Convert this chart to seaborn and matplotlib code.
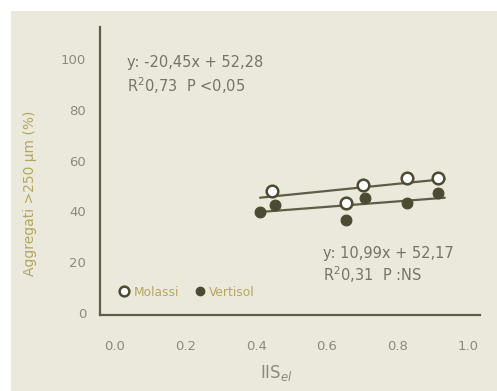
import numpy as np
import pandas as pd
import seaborn as sns
import matplotlib
matplotlib.use("Agg")
import matplotlib.pyplot as plt
from matplotlib.patches import Rectangle
from matplotlib.lines import Line2D

# Aggregate stability vs. IIS index for two soils
molassi_x = [0.444, 0.654, 0.702, 0.827, 0.914]
molassi_y = [48.2, 43.2, 50.4, 53.0, 53.0]
vertisol_x = [0.411, 0.454, 0.654, 0.709, 0.827, 0.914]
vertisol_y = [39.9, 42.5, 36.6, 45.2, 43.4, 47.1]

x_ticks = [0.0, 0.2, 0.4, 0.6, 0.8, 1.0]
x_tick_labels = ["0.0", "0.2", "0.4", "0.6", "0.8", "1.0"]
y_ticks = [0, 20, 40, 60, 80, 100]

eq_molassi = ["y: -20,45x + 52,28", "R$^2$0,73  P <0,05"]
eq_vertisol = ["y: 10,99x + 52,17", "R$^2$0,31  P :NS"]

BG = "#ebe9dc"
AXIS = "#5e5d45"
DARK = "#4b4a32"
TEXT = "#75746a"
TICKTXT = "#8b8a80"
GOLD = "#b3a75f"

sns.set_theme(style="white")
plt.rcParams["font.family"] = ["DejaVu Sans"]

fig = plt.figure(figsize=(4.97, 3.91), dpi=100, facecolor="white")
fig.patches.append(Rectangle((11 / 497, 0), 1 - 11 / 497, 1 - 11 / 391,
                             transform=fig.transFigure, facecolor=BG,
                             edgecolor="none", zorder=-10))
ax = fig.add_axes([100 / 497, 1 - 315 / 391, 380 / 497, 288 / 391])
ax.set_facecolor(BG)
ax.patch.set_alpha(0)

df_m = pd.DataFrame({"x": molassi_x, "y": molassi_y})
df_v = pd.DataFrame({"x": vertisol_x, "y": vertisol_y})

# regression lines over the common x range of the data
x_lo = min(molassi_x + vertisol_x)
x_hi = max(molassi_x + vertisol_x) + 0.02
for d in (df_m, df_v):
    k, b = np.polyfit(d["x"], d["y"], 1)
    xs = np.array([x_lo, x_hi])
    sns.lineplot(x=xs, y=k * xs + b, ax=ax, color=AXIS, lw=1.6, zorder=2)

sns.scatterplot(data=df_v, x="x", y="y", ax=ax, s=60, color=DARK,
                edgecolor=DARK, linewidth=0.8, zorder=3)
sns.scatterplot(data=df_m, x="x", y="y", ax=ax, s=70, facecolor="white",
                edgecolor=DARK, linewidth=1.8, zorder=4)

ax.set_xlim(-0.0425, 1.034)
ax.set_ylim(-0.8, 112.6)
ax.set_xticks(x_ticks)
ax.set_xticklabels(x_tick_labels)
ax.set_yticks(y_ticks)

for side in ("top", "right"):
    ax.spines[side].set_visible(False)
for side in ("left", "bottom"):
    ax.spines[side].set_color(AXIS)
    ax.spines[side].set_linewidth(1.6)

ax.tick_params(axis="both", which="major", direction="inout", length=4,
               width=1.0, color=AXIS, labelsize=9.5, labelcolor=TICKTXT)
ax.tick_params(axis="x", pad=16)
ax.tick_params(axis="y", pad=8)

ax.set_xlabel("IIS$_{el}$", fontsize=12, color=TICKTXT)
ax.xaxis.set_label_coords((276 - 100) / 380, -(373 - 315) / 288)
ax.xaxis.label.set_va("center")
ax.set_ylabel("Aggregati >250 μm (%)", fontsize=10, color=GOLD)
ax.yaxis.set_label_coords(-(100 - 30) / 380, (315 - 193) / 288)
ax.yaxis.label.set_va("center")

ax.text(0.034, 98.8, eq_molassi[0], fontsize=10.5, color=TEXT, va="center")
ax.text(0.034, 89.6, eq_molassi[1], fontsize=10.5, color=TEXT, va="center")
ax.text(0.59, 23.6, eq_vertisol[0], fontsize=10.5, color=TEXT, va="center")
ax.text(0.59, 15.0, eq_vertisol[1], fontsize=10.5, color=TEXT, va="center")

handles = [
    Line2D([], [], marker="o", ls="none", markersize=7, markerfacecolor="white",
           markeredgecolor=DARK, markeredgewidth=1.8, label="Molassi"),
    Line2D([], [], marker="o", ls="none", markersize=6, markerfacecolor=DARK,
           markeredgecolor=DARK, label="Vertisol"),
]
leg = ax.legend(handles=handles, loc="center left",
                bbox_to_anchor=((112 - 100) / 380, (315 - 292) / 288),
                ncol=2, frameon=False, fontsize=8.8, handletextpad=0.15,
                columnspacing=1.1, borderaxespad=0.0, handlelength=1.2)
for t in leg.get_texts():
    t.set_color(GOLD)

fig.savefig("out.png", dpi=100, facecolor="white")
